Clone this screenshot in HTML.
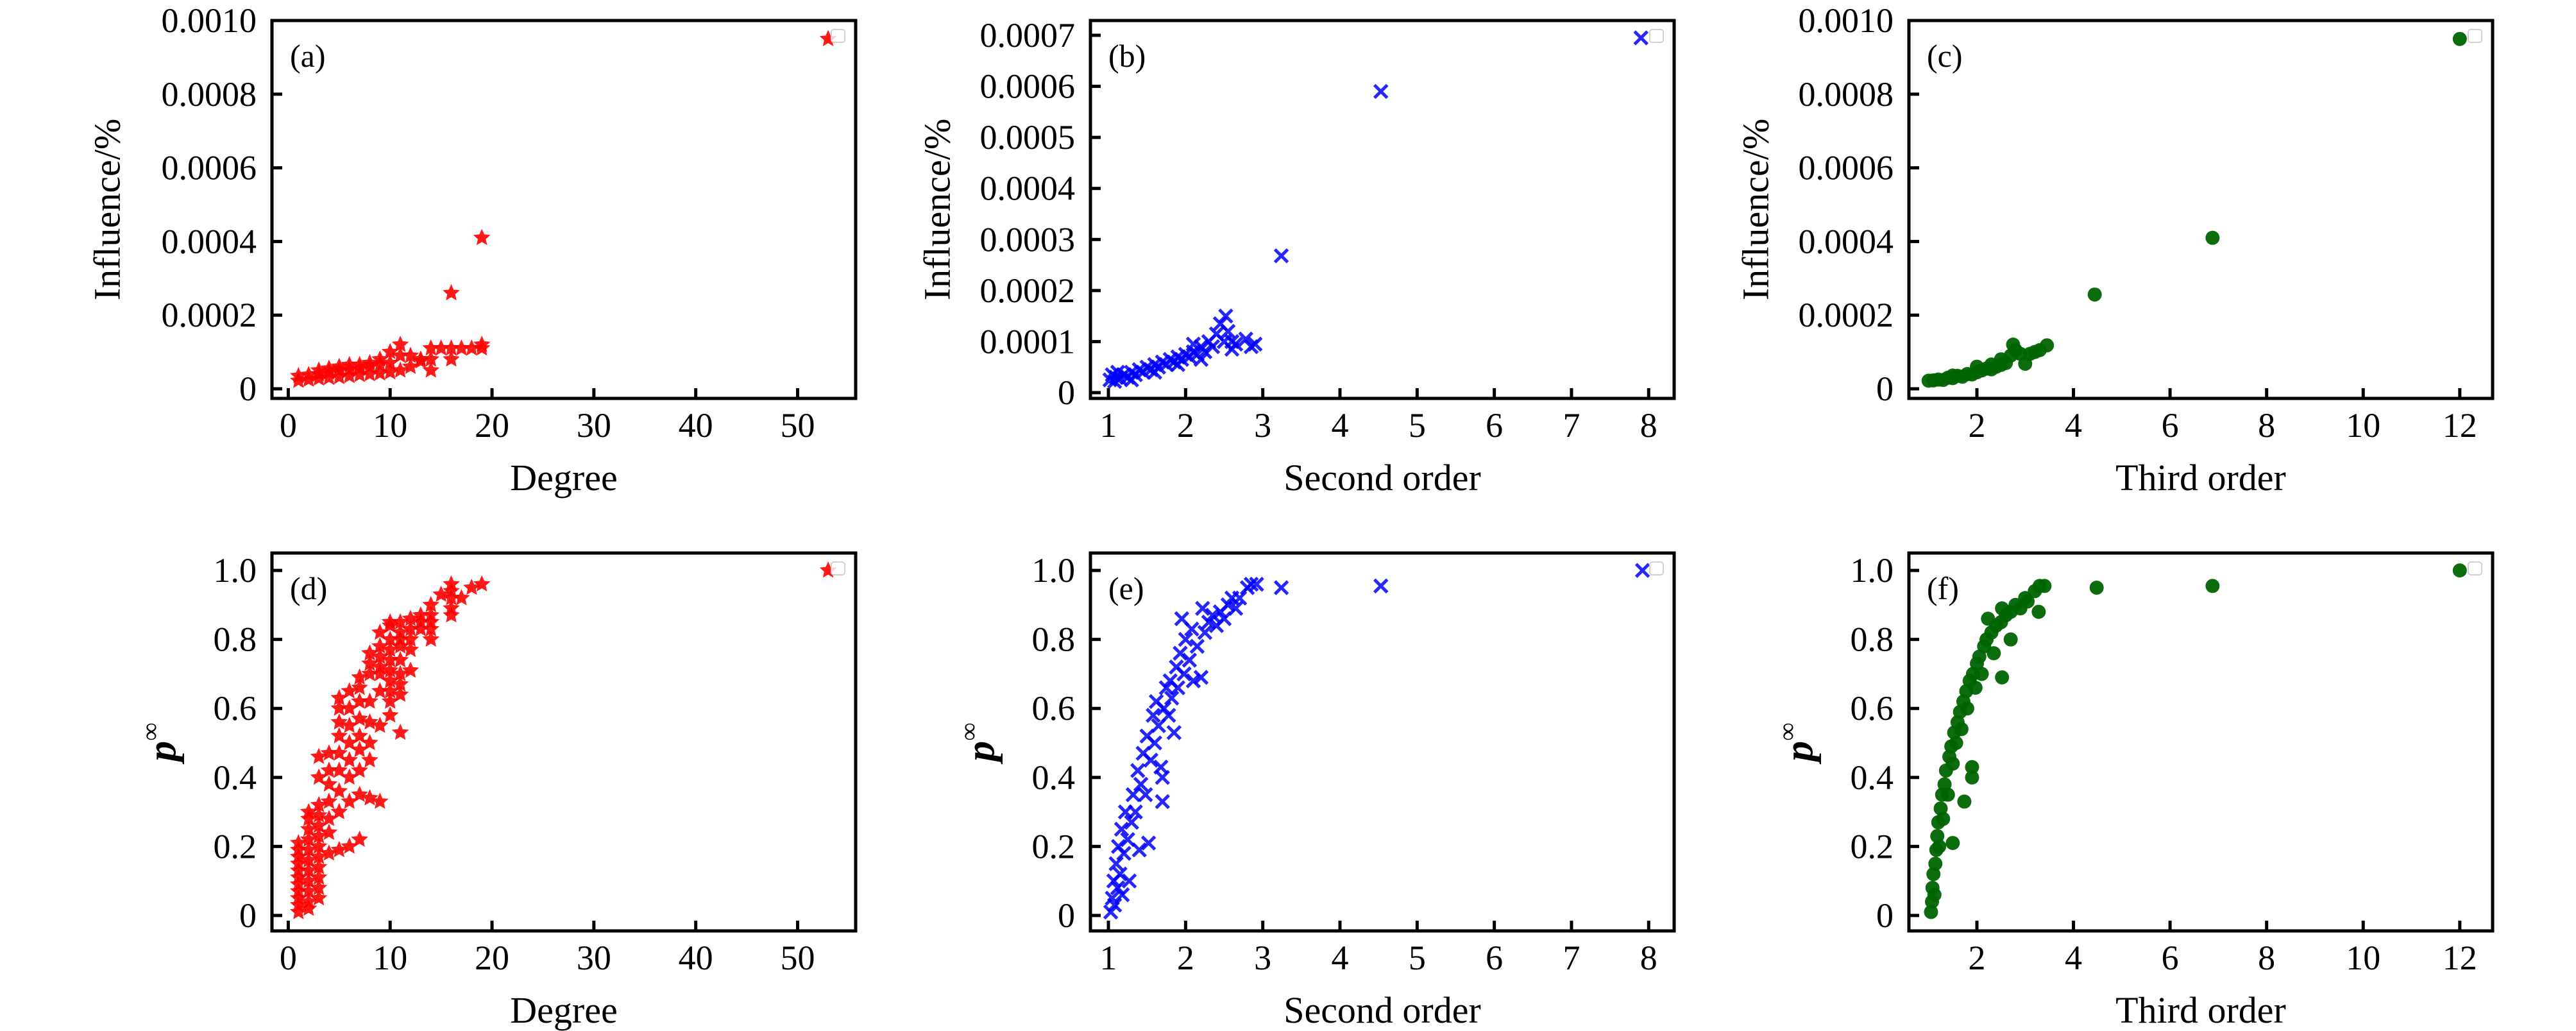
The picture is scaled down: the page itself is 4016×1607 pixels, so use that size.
<!DOCTYPE html>
<html><head><meta charset="utf-8"><style>
html,body{margin:0;padding:0;background:#fff;}
svg{display:block;}
svg text{font-family:"Liberation Serif","DejaVu Serif",serif;}
</style></head><body>
<svg id="fig" width="4016" height="1607" viewBox="0 0 4016 1607" xmlns="http://www.w3.org/2000/svg" font-family="Liberation Serif, DejaVu Serif, serif"></svg>
<script>
// ---------- data ----------
const aDeg=[1,1,2,2,3,3,3,4,4,4,5,5,5,6,6,6,7,7,7,8,8,8,9,9,9,10,10,10,11,11,11,12,12,13,13,14,14,14,15,16,16,16,17,18,19,19,19,53];
const aInf=[2.2,3.5,2.5,3.8,2.8,4,5,3,4.5,5.5,3.2,5,6,3.5,5.2,6.5,3.8,5.5,6.5,4,6,7,4.2,6.5,8,4.5,7,10,5,9,12,6,9,8,7.5,5,8,11,11,8,11,26,11,11,12,11,41,95].map(v=>v*1e-5);
const bX=[1.02,1.05,1.08,1.1,1.12,1.15,1.2,1.25,1.3,1.35,1.4,1.45,1.5,1.55,1.6,1.65,1.7,1.75,1.8,1.85,1.9,1.95,2.0,2.05,2.1,2.15,2.2,2.25,2.3,2.35,2.4,2.45,2.5,2.52,2.55,2.6,2.6,2.65,2.78,2.9,2.85,1.3,1.6,1.9,2.2,2.1,3.24,4.53,7.9];
const bInf=[2.5,3.5,2.2,3,4,2.8,3.5,3,4,3.5,4.5,4,5,4.5,5.5,5,6,5.5,6.5,6,7,6.5,7.5,7,8,7.5,9,8,10,9,11.5,13.5,10,15,12,8.5,10,9.5,10.5,9.5,9,2.5,4,5.5,6.5,9.5,26.8,59,69.5].map(v=>v*1e-5);
const cX=[1.0,1.1,1.2,1.3,1.4,1.5,1.6,1.7,1.8,1.9,2.0,2.1,2.2,2.3,2.4,2.5,2.6,2.7,2.8,2.9,3.0,3.1,3.2,3.3,3.45,2.75,1.5,2.0,2.3,2.5,4.44,6.88,12];
const cInf=[2.2,2.3,2.5,2.4,3,2.9,3.5,3.3,4,3.9,4.5,5,5.5,5.3,6,6.5,7,9,10.5,9.5,6.8,9.5,10,10.5,11.8,12,3.6,6,6.6,8,25.6,41,95].map(v=>v*1e-5);
const dDeg=[1,1,1,1,1,1,1,1,1,1,1, 2,2,2,2,2,2,2,2,2,2,2, 3,3,3,3,3,3,3,3,3,3,3,3, 4,4,4,4,4,4,4, 5,5,5,5,5,5,5,5,5, 6,6,6,6,6,6,6,6, 7,7,7,7,7,7,7,7,7, 8,8,8,8,8,8,8,8, 9,9,9,9,9,9,9,9, 10,10,10,10,10,10,10,10,10,10, 11,11,11,11,11,11,11,11,11, 12,12,12,12,12, 13,13,13, 14,14,14,14,14, 15, 16,16,16,16,16, 17,18,19,53];
const dP=[0.01,0.03,0.05,0.07,0.09,0.11,0.13,0.15,0.17,0.19,0.21, 0.02,0.04,0.07,0.1,0.13,0.16,0.19,0.22,0.25,0.28,0.3, 0.05,0.08,0.11,0.14,0.17,0.2,0.23,0.26,0.29,0.32,0.4,0.46, 0.18,0.24,0.28,0.33,0.38,0.42,0.47, 0.19,0.3,0.36,0.42,0.47,0.52,0.56,0.6,0.63, 0.2,0.33,0.4,0.45,0.5,0.55,0.6,0.65, 0.22,0.35,0.42,0.48,0.52,0.57,0.62,0.66,0.69, 0.34,0.45,0.5,0.56,0.62,0.7,0.73,0.76, 0.33,0.55,0.65,0.7,0.72,0.75,0.78,0.82, 0.58,0.62,0.65,0.68,0.71,0.74,0.77,0.8,0.84,0.85, 0.53,0.64,0.67,0.7,0.74,0.78,0.8,0.82,0.85, 0.71,0.77,0.8,0.83,0.86, 0.83,0.85,0.87, 0.8,0.83,0.85,0.87,0.9, 0.93, 0.87,0.89,0.92,0.94,0.96, 0.92,0.95,0.96,1.0];
const eX=[1.03,1.05,1.07,1.08,1.1,1.12,1.13,1.15,1.17,1.18,1.2,1.22,1.25,1.27,1.3,1.32,1.35,1.38,1.4,1.42,1.45,1.48,1.5,1.52,1.55,1.58,1.6,1.62,1.65,1.68,1.7,1.7,1.72,1.75,1.78,1.8,1.82,1.85,1.88,1.9,1.93,1.95,1.98,2.0,2.05,2.08,2.1,2.15,2.2,2.22,2.25,2.3,2.35,2.4,2.45,2.5,2.55,2.6,2.65,2.7,2.8,2.85,2.92,3.24,4.53,7.92];
const eP=[0.01,0.05,0.1,0.03,0.15,0.08,0.2,0.12,0.25,0.06,0.18,0.3,0.22,0.1,0.27,0.35,0.3,0.42,0.19,0.38,0.47,0.35,0.52,0.21,0.45,0.58,0.5,0.62,0.55,0.43,0.33,0.4,0.6,0.66,0.58,0.68,0.63,0.53,0.72,0.66,0.76,0.86,0.7,0.8,0.74,0.83,0.68,0.78,0.69,0.89,0.82,0.85,0.87,0.84,0.88,0.86,0.9,0.92,0.89,0.92,0.95,0.96,0.96,0.95,0.955,1.0];
const fX=[1.05,1.07,1.08,1.1,1.12,1.14,1.16,1.18,1.2,1.22,1.25,1.28,1.3,1.33,1.36,1.4,1.43,1.47,1.5,1.5,1.53,1.57,1.6,1.65,1.68,1.72,1.74,1.78,1.8,1.85,1.9,1.9,1.92,1.97,2.0,2.05,2.1,2.15,2.2,2.23,2.3,2.35,2.4,2.5,2.52,2.52,2.6,2.7,2.7,2.8,2.9,3.0,3.05,3.2,3.28,3.3,3.4,4.48,6.88,12];
const fP=[0.01,0.04,0.08,0.12,0.06,0.15,0.19,0.23,0.27,0.2,0.31,0.35,0.28,0.38,0.42,0.35,0.46,0.49,0.21,0.44,0.53,0.5,0.56,0.59,0.54,0.62,0.33,0.65,0.6,0.68,0.43,0.4,0.7,0.66,0.73,0.75,0.7,0.78,0.8,0.86,0.82,0.76,0.84,0.85,0.89,0.69,0.87,0.8,0.88,0.9,0.89,0.92,0.91,0.94,0.88,0.955,0.955,0.95,0.955,1.0];

const ticksDeg=[0,10,20,30,40,50], labelsDeg=["0","10","20","30","40","50"];
const ticksSec=[1,2,3,4,5,6,7,8], labelsSec=["1","2","3","4","5","6","7","8"];
const ticksThi=[2,4,6,8,10,12], labelsThi=["2","4","6","8","10","12"];
const ticksInf=[0,0.0002,0.0004,0.0006,0.0008,0.001], labelsInf=["0","0.0002","0.0004","0.0006","0.0008","0.0010"];
const ticksInfB=[0,0.0001,0.0002,0.0003,0.0004,0.0005,0.0006,0.0007], labelsInfB=["0","0.0001","0.0002","0.0003","0.0004","0.0005","0.0006","0.0007"];
const ticksP=[0,0.2,0.4,0.6,0.8,1.0], labelsP=["0","0.2","0.4","0.6","0.8","1.0"];

// ---------- layout ----------
const NS="http://www.w3.org/2000/svg";
const svg=document.getElementById('fig');
const FONT='Liberation Serif, DejaVu Serif, serif';
function mk(tag,attrs,parent){const e=document.createElementNS(NS,tag);for(const k in attrs)e.setAttribute(k,attrs[k]);(parent||svg).appendChild(e);return e;}
const W=910,H=589;
const panels=[
 {id:'a',L:424,T:32,xd:[-1.6,55.7],yd:[-0.0000261,0.001],xt:ticksDeg,xl:labelsDeg,yt:ticksInf,yl:labelsInf,xs:aDeg,ys:aInf,m:'star',c:'#ff0000',xlab:'Degree',ylab:'inf',yoff:258},
 {id:'b',L:1700,T:32,xd:[0.767,8.33],yd:[-0.0000113,0.0007289],xt:ticksSec,xl:labelsSec,yt:ticksInfB,yl:labelsInfB,xs:bX,ys:bInf,m:'x',c:'#0000ff',xlab:'Second order',ylab:'inf',yoff:240},
 {id:'c',L:2976,T:32,xd:[0.592,12.68],yd:[-0.0000261,0.001],xt:ticksThi,xl:labelsThi,yt:ticksInf,yl:labelsInf,xs:cX,ys:cInf,m:'o',c:'#006400',xlab:'Third order',ylab:'inf',yoff:240},
 {id:'d',L:424,T:862,xd:[-1.6,55.7],yd:[-0.0448,1.0504],xt:ticksDeg,xl:labelsDeg,yt:ticksP,yl:labelsP,xs:dDeg,ys:dP,m:'star',c:'#ff0000',xlab:'Degree',ylab:'p',yoff:171},
 {id:'e',L:1700,T:862,xd:[0.767,8.33],yd:[-0.0448,1.0504],xt:ticksSec,xl:labelsSec,yt:ticksP,yl:labelsP,xs:eX,ys:eP,m:'x',c:'#0000ff',xlab:'Second order',ylab:'p',yoff:171},
 {id:'f',L:2976,T:862,xd:[0.592,12.68],yd:[-0.0448,1.0504],xt:ticksThi,xl:labelsThi,yt:ticksP,yl:labelsP,xs:fX,ys:fP,m:'o',c:'#006400',xlab:'Third order',ylab:'p',yoff:171}
];
function starPts(cx,cy,R,r){let s=[];for(let i=0;i<10;i++){const a=-Math.PI/2+i*Math.PI/5;const rr=i%2?r:R;s.push((cx+rr*Math.cos(a)).toFixed(1)+','+(cy+rr*Math.sin(a)).toFixed(1));}return s.join(' ');}

panels.forEach(p=>{
  const g=mk('g',{'font-family':FONT});
  
  
  const sx=v=>p.L+(v-p.xd[0])/(p.xd[1]-p.xd[0])*W;
  const sy=v=>p.T+H-(v-p.yd[0])/(p.yd[1]-p.yd[0])*H;
  const mg=mk('g',{},g);
  
  
  for(let i=0;i<p.xs.length;i++){
    const x=sx(p.xs[i]),y=sy(p.ys[i]);let e;
    if(p.m==='star'){e=mk('polygon',{points:starPts(x,y,14,6.5),fill:p.c,'fill-opacity':0.9},mg);}
    else if(p.m==='x'){e=mk('path',{d:`M${x-10},${y-10}L${x+10},${y+10}M${x-10},${y+10}L${x+10},${y-10}`,stroke:p.c,'stroke-width':5,'stroke-opacity':0.85,fill:'none'},mg);}
    else{e=mk('circle',{cx:x,cy:y,r:11,fill:p.c,'fill-opacity':0.95},mg);}
    
    
  }
  const lb=mk('rect',{x:p.L+W-38,y:p.T+14,width:21,height:20,rx:4,fill:'#fff','fill-opacity':0.8,stroke:'#d0d0d0','stroke-width':2},g);
  
  
  p.xt.forEach((t,i)=>{
    const x=sx(t);
    const tk=mk('line',{x1:x,x2:x,y1:p.T+H,y2:p.T+H-16,stroke:'#000','stroke-width':5},g);
    
    
    const tl=mk('text',{x:x,y:p.T+H+60,'font-size':54,'text-anchor':'middle',fill:'#000','font-family':FONT},g);
    tl.textContent=p.xl[i];
    
    
  });
  p.yt.forEach((t,i)=>{
    const y=sy(t);
    const tk=mk('line',{x1:p.L,x2:p.L+16,y1:y,y2:y,stroke:'#000','stroke-width':5},g);
    
    
    const tl=mk('text',{x:p.L-24,y:y+18,'font-size':54,'text-anchor':'end',fill:'#000','font-family':FONT},g);
    tl.textContent=p.yl[i];
    
    
  });
  const fr=mk('rect',{x:p.L,y:p.T,width:W,height:H,fill:'none',stroke:'#000','stroke-width':5},g);
  
  
  const pl=mk('text',{x:p.L+28,y:p.T+72,'font-size':50,fill:'#000','font-family':FONT},g);
  pl.textContent='('+p.id+')';
  
  
  const xl=mk('text',{x:p.L+W/2,y:p.T+H+143,'font-size':58,'text-anchor':'middle',fill:'#000','font-family':FONT},g);
  xl.textContent=p.xlab;
  
  
  const cx=p.L-p.yoff, cy=p.T+H/2;
  const yl=mk('text',{x:cx,y:cy,'font-size':58,'text-anchor':'middle',transform:`rotate(-90 ${cx} ${cy})`,dy:'0.35em',fill:'#000','font-family':FONT},g);
  if(p.ylab==='inf'){yl.textContent='Influence/%';}
  else{
    const t1=mk('tspan',{'font-style':'italic','font-weight':'bold','font-size':64},yl);t1.textContent='p';
    const t2=mk('tspan',{'font-size':40,dy:'-26'},yl);t2.textContent='∞';
  }
  
  
});
</script>
</body></html>
